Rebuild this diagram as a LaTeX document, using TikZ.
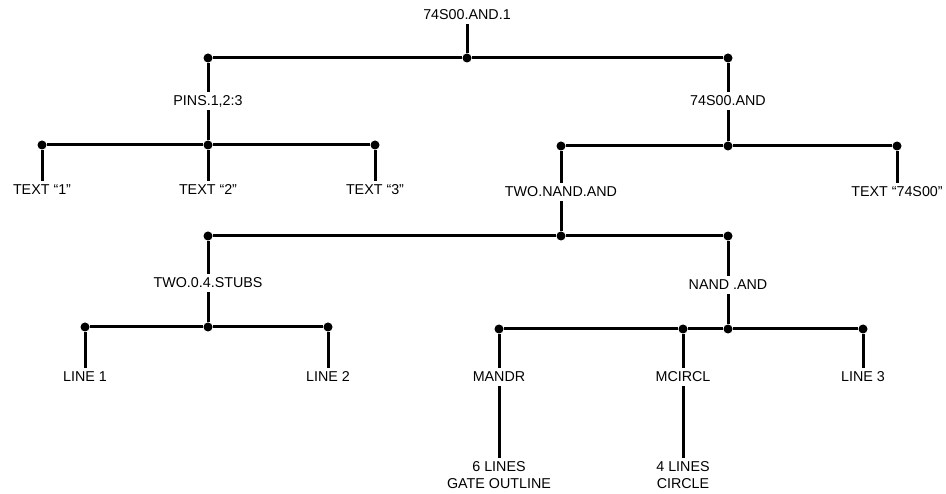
\documentclass[tikz,border=0pt]{standalone}
\usepackage{fontspec}
\setmainfont{Liberation Sans}
\begin{document}
\begin{tikzpicture}[x=1pt,y=-1pt,
  lab/.style={inner sep=4pt, font=\fontsize{14.3}{17}\selectfont, text height=10pt, text depth=0pt},
  lab2/.style={inner sep=3pt, font=\fontsize{14.3}{17}\selectfont, align=center, anchor=north},
  dot/.style={circle, fill=black, minimum size=9pt, inner sep=0pt},
  wire/.style={line width=3pt}]
\useasboundingbox (0,0) rectangle (946,494);
% level 0
\node[lab] (root) at (467,15) {74S00.AND.1};
\node[dot] (j0) at (467,58) {};
\node[dot] (jL) at (208,58) {};
\node[dot] (jR) at (728,58) {};
\node[lab] (pins) at (208,101) {PINS.1,2:3};
\node[lab] (and) at (728,101) {74S00.AND};
% pins subtree
\node[dot] (jP) at (208,145) {};
\node[dot] (jP1) at (42,145) {};
\node[dot] (jP3) at (375,145) {};
\node[lab] (t1) at (42,190) {TEXT “1”};
\node[lab] (t2) at (208,190) {TEXT “2”};
\node[lab] (t3) at (375,190) {TEXT “3”};
% and subtree
\node[dot] (jA) at (728,146) {};
\node[dot] (jA1) at (561,146) {};
\node[dot] (jA2) at (897,146) {};
\node[lab] (twonand) at (561,192) {TWO.NAND.AND};
\node[lab] (t74) at (897,192) {TEXT “74S00”};
% two.nand.and subtree
\node[dot] (jT) at (561,236) {};
\node[dot] (jT1) at (208,236) {};
\node[dot] (jT2) at (728,236) {};
\node[lab] (stubs) at (208,283) {TWO.0.4.STUBS};
\node[lab] (nand) at (728,285) {NAND .AND};
% stubs subtree
\node[dot] (jS) at (208,327) {};
\node[dot] (jS1) at (85,327) {};
\node[dot] (jS2) at (328,327) {};
\node[lab] (l1) at (85,377) {LINE 1};
\node[lab] (l2) at (328,377) {LINE 2};
% nand subtree
\node[dot] (jN) at (728,329) {};
\node[dot] (jN1) at (499,329) {};
\node[dot] (jN2) at (683,329) {};
\node[dot] (jN3) at (863,329) {};
\node[lab] (mandr) at (499,377) {MANDR};
\node[lab] (mcircl) at (683,377) {MCIRCL};
\node[lab] (l3) at (863,377) {LINE 3};
\node[lab2] (six) at (499,458) {6 LINES\\GATE OUTLINE};
\node[lab2] (four) at (683,458) {4 LINES\\CIRCLE};
% connectors
\draw[wire] (root) -- (j0);
\draw[wire] (jL) -- (j0) -- (jR);
\draw[wire] (jL) -- (pins);
\draw[wire] (jR) -- (and);
\draw[wire] (pins) -- (jP);
\draw[wire] (jP1) -- (jP) -- (jP3);
\draw[wire] (jP1) -- (t1);
\draw[wire] (jP) -- (t2);
\draw[wire] (jP3) -- (t3);
\draw[wire] (and) -- (jA);
\draw[wire] (jA1) -- (jA) -- (jA2);
\draw[wire] (jA1) -- (twonand);
\draw[wire] (jA2) -- (t74);
\draw[wire] (twonand) -- (jT);
\draw[wire] (jT1) -- (jT) -- (jT2);
\draw[wire] (jT1) -- (stubs);
\draw[wire] (jT2) -- (nand);
\draw[wire] (stubs) -- (jS);
\draw[wire] (jS1) -- (jS) -- (jS2);
\draw[wire] (jS1) -- (l1);
\draw[wire] (jS2) -- (l2);
\draw[wire] (nand) -- (jN);
\draw[wire] (jN1) -- (jN2) -- (jN) -- (jN3);
\draw[wire] (jN1) -- (mandr);
\draw[wire] (jN2) -- (mcircl);
\draw[wire] (jN3) -- (l3);
\draw[wire] (mandr) -- (six);
\draw[wire] (mcircl) -- (four);
\end{tikzpicture}
\end{document}
